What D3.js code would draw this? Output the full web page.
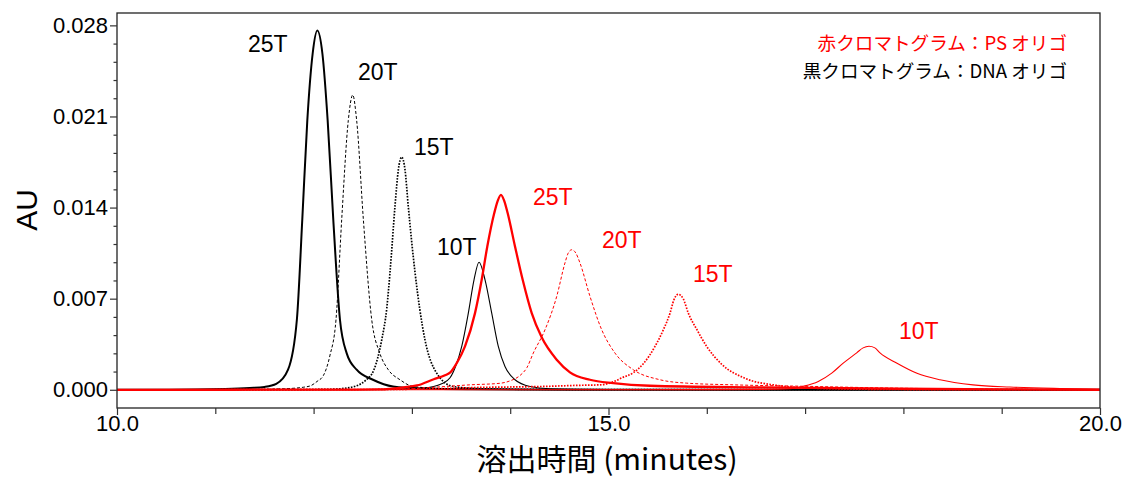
<!DOCTYPE html>
<html><head><meta charset="utf-8">
<script src="https://cdn.jsdelivr.net/npm/d3@7"></script>
<style>
body{margin:0;background:#fff}
svg text{font-family:"Liberation Sans",Arial,sans-serif;fill:#000}
</style>
</head><body>
<svg id="c" width="1127" height="478"></svg>
<script>
// ---- data (time in minutes, absorbance AU) ----
const xTickValues = [10, 15, 20];
const xMinorValues = [11, 12, 13, 14, 16, 17, 18, 19];
const yTickValues = [0, 0.007, 0.014, 0.021, 0.028];
const yMinorValues = [0.0014, 0.0028, 0.0042, 0.0056, 0.0084, 0.0098, 0.0112, 0.0126,
  0.0154, 0.0168, 0.0182, 0.0196, 0.0224, 0.0238, 0.0252, 0.0266];

const dna25T = [[10,0],[10.8,0.00002],[11.1,0.00006],[11.35,0.00014],[11.5,0.00022],[11.62,0.00045],
  [11.74,0.00154],[11.83,0.0054],[11.885,0.0131],[11.936,0.0207],[11.99,0.0258],[12.038,0.0276],
  [12.09,0.0258],[12.143,0.0207],[12.2,0.0131],[12.268,0.0054],[12.337,0.0028],[12.438,0.00154],
  [12.604,0.00077],[12.808,0.00025],[13.1,0.0001],[13.6,0.00004],[14.5,0.00001],[20,0]];
const dna20T = [[10,0],[11.3,0.00002],[11.7,0.00008],[11.9,0.0002],[11.97,0.00031],[12.035,0.00064],
  [12.1,0.0011],[12.165,0.0026],[12.228,0.0054],[12.286,0.0131],[12.353,0.0207],[12.398,0.02265],
  [12.438,0.0207],[12.506,0.0131],[12.591,0.0054],[12.674,0.0028],[12.76,0.00154],[12.879,0.00077],
  [13.014,0.00025],[13.3,0.0001],[14.0,0.00003],[20,0]];
const dna15T = [[10,0],[11.8,0.00001],[12.17,0.00004],[12.373,0.00018],[12.526,0.00071],[12.614,0.00154],
  [12.693,0.00384],[12.745,0.0063],[12.777,0.009],[12.828,0.0141],[12.862,0.0169],[12.896,0.01788],
  [12.93,0.0169],[12.963,0.0141],[13.032,0.009],[13.08,0.0062],[13.133,0.00384],[13.252,0.00128],
  [13.421,0.00025],[13.7,0.00008],[14.5,0.00002],[20,0]];
const dna10T = [[10,0],[12.5,0.00001],[12.88,0.00003],[13.113,0.00012],[13.303,0.00046],[13.388,0.00092],
  [13.444,0.00179],[13.507,0.00333],[13.574,0.00589],[13.632,0.00845],[13.683,0.0098],[13.744,0.00845],
  [13.812,0.00589],[13.879,0.00333],[13.947,0.00179],[14.049,0.00077],[14.201,0.00025],[14.4,0.00008],
  [15,0.00002],[20,0]];
const ps25T = [[10,0],[12.3,0.00001],[12.675,0.00003],[12.917,0.00019],[13.052,0.00033],[13.222,0.00081],
  [13.337,0.00111],[13.391,0.00134],[13.456,0.00205],[13.54,0.00333],[13.642,0.00589],[13.71,0.00845],
  [13.767,0.01101],[13.838,0.01358],[13.872,0.0145],[13.906,0.01498],[13.94,0.0145],[13.974,0.01358],
  [14.049,0.01101],[14.127,0.00845],[14.219,0.00589],[14.32,0.00403],[14.473,0.00231],[14.608,0.00134],
  [14.812,0.00077],[15.049,0.00051],[15.422,0.00031],[16.541,0.00018],[17.965,0.00008],[18.98,0.00003],[20,0]];
const ps20T = [[10,0],[12.4,0.00002],[12.879,0.00005],[13.255,0.00021],[13.591,0.00038],[13.896,0.0005],
  [14.0,0.00069],[14.1,0.0011],[14.17,0.0017],[14.235,0.00282],[14.354,0.00461],[14.473,0.00717],
  [14.557,0.00974],[14.59,0.0105],[14.626,0.01076],[14.668,0.0105],[14.71,0.00974],[14.812,0.00717],
  [14.931,0.00461],[15.066,0.00282],[15.252,0.00154],[15.524,0.00077],[15.796,0.00051],[16.27,0.00038],
  [16.983,0.00027],[17.965,0.00012],[19,0.00005],[20,0.00002]];
const ps15T = [[10,0],[12.5,0.00002],[13.08,0.00005],[13.69,0.00018],[14.3,0.00025],[14.744,0.00035],
  [14.913,0.00038],[15.049,0.00061],[15.137,0.00092],[15.252,0.00131],[15.354,0.002],[15.473,0.00333],
  [15.558,0.00461],[15.626,0.00589],[15.665,0.0069],[15.71,0.00734],[15.76,0.007],[15.812,0.00589],
  [15.9,0.00461],[15.999,0.00333],[16.152,0.00196],[16.389,0.00088],[16.701,0.00035],[17.009,0.00015],
  [17.457,0.00006],[18,0.00002],[20,0]];
const ps10T = [[10,0],[16.0,0.00001],[16.541,0.00003],[16.846,0.00008],[16.982,0.00027],[17.134,0.00064],
  [17.271,0.00128],[17.388,0.00205],[17.525,0.00284],[17.59,0.00322],[17.65,0.00334],[17.71,0.00322],
  [17.762,0.00284],[17.935,0.00204],[18.138,0.00127],[18.372,0.00077],[18.708,0.00038],[19.084,0.00021],
  [19.593,0.0001],[20,0.00005]];

const seriesNames = ["25T", "20T", "15T", "10T"];
const legendTexts = ["赤クロマトグラム：PS オリゴ", "黒クロマトグラム：DNA オリゴ"];
const xTitle = "溶出時間 (minutes)";
const yTitle = "AU";

// ---- layout / styles ----
const L = 117, R = 1100, T = 13, B = 408;
const svg = d3.select("#c");
const x = d3.scaleLinear().domain([10, 20]).range([L, R]);
const y = d3.scaleLinear().domain([-0.0014, 0.02895]).range([B, T]);

const lineStyles = [
  {w: 2.0, dash: null},
  {w: 1.0, dash: "3,2"},
  {w: 1.7, dash: "1.6,1.4"},
  {w: 1.1, dash: null}
];
const redStyles = [
  {w: 2.3, dash: null},
  {w: 1.0, dash: "3,2"},
  {w: 1.7, dash: "1.6,1.4"},
  {w: 1.1, dash: null}
];

svg.append("defs").append("clipPath").attr("id", "clip")
  .append("rect").attr("x", L).attr("y", T).attr("width", R - L).attr("height", B - T);

const line = d3.line().x(d => x(d[0])).y(d => y(d[1])).curve(d3.curveMonotoneX);
const plot = svg.append("g").attr("clip-path", "url(#clip)");

const black = [dna25T, dna20T, dna15T, dna10T];
const red = [ps25T, ps20T, ps15T, ps10T];
black.forEach((s, i) => {
  plot.append("path").datum(s).attr("d", line).attr("fill", "none")
    .attr("stroke", "#000").attr("stroke-width", lineStyles[i].w)
    .attr("stroke-dasharray", lineStyles[i].dash);
});
[3, 2, 1, 0].forEach(i => {
  plot.append("path").datum(red[i]).attr("d", line).attr("fill", "none")
    .attr("stroke", "#ff0000").attr("stroke-width", redStyles[i].w)
    .attr("stroke-dasharray", redStyles[i].dash);
});

// frame
svg.append("rect").attr("x", L).attr("y", T).attr("width", R - L).attr("height", B - T)
  .attr("fill", "none").attr("stroke", "#222").attr("stroke-width", 1.3);

// axes
const fx = d3.format(".1f"), fy = d3.format(".3f");
const gx = svg.append("g").attr("transform", `translate(0,${B})`)
  .call(d3.axisBottom(x).tickValues(xTickValues).tickFormat(fx).tickSize(7).tickPadding(0));
const gxm = svg.append("g").attr("transform", `translate(0,${B})`)
  .call(d3.axisBottom(x).tickValues(xMinorValues).tickFormat("").tickSize(6));
const gy = svg.append("g").attr("transform", `translate(${L},0)`)
  .call(d3.axisLeft(y).tickValues(yTickValues).tickFormat(fy).tickSize(7).tickPadding(2));
const gym = svg.append("g").attr("transform", `translate(${L},0)`)
  .call(d3.axisLeft(y).tickValues(yMinorValues).tickFormat("").tickSize(3.5));
[gx, gxm, gy, gym].forEach(g => {
  g.select(".domain").remove();
  g.selectAll(".tick line").attr("stroke", "#333").attr("stroke-width", 1.2);
  g.selectAll(".tick text").style("font-size", "22px").style("font-family", "'Liberation Sans',Arial,sans-serif").attr("fill", "#000");
});

// axis titles
svg.append("text").attr("transform", "translate(37,210) rotate(-90)")
  .attr("text-anchor", "middle").style("font-size", "30px").text(yTitle);
svg.append("text").attr("x", 607).attr("y", 469.5).attr("text-anchor", "middle")
  .style("font-family", "'Noto Sans CJK JP',sans-serif").style("font-size", "30px").text(xTitle);

// peak labels
const blackLabelPos = [[248, 52], [358, 80], [414, 155], [437, 255]];
const redLabelPos = [[533, 205], [602, 248], [693, 282], [899, 339]];
seriesNames.forEach((n, i) => {
  svg.append("text").attr("x", blackLabelPos[i][0]).attr("y", blackLabelPos[i][1])
    .style("font-size", "23px").text(n);
  svg.append("text").attr("x", redLabelPos[i][0]).attr("y", redLabelPos[i][1])
    .style("font-size", "23px").style("fill", "#ff0000").text(n);
});

// legend
svg.append("text").attr("x", 1067).attr("y", 50).attr("text-anchor", "end")
  .style("font-family", "'Noto Sans CJK JP',sans-serif").style("font-size", "18.6px")
  .style("fill", "#ff0000").text(legendTexts[0]);
svg.append("text").attr("x", 1067).attr("y", 78).attr("text-anchor", "end")
  .style("font-family", "'Noto Sans CJK JP',sans-serif").style("font-size", "18.6px")
  .text(legendTexts[1]);
</script>
</body></html>
